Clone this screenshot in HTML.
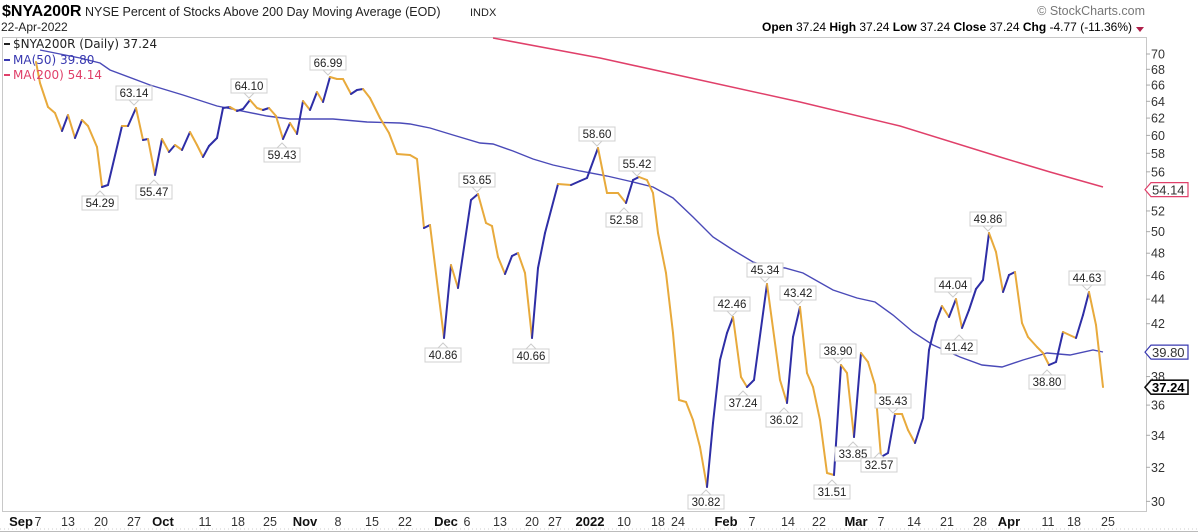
<!DOCTYPE html>
<html><head><meta charset="utf-8"><style>
html,body{margin:0;padding:0;background:#fff;}
svg{display:block;font-family:"Liberation Sans",sans-serif;}
</style></head><body>
<svg id="s" width="1198" height="532" viewBox="0 0 1198 532" xmlns="http://www.w3.org/2000/svg">
<rect width="1198" height="532" fill="#fff"/>
<text x="2" y="16" font-size="16" font-weight="bold" fill="#000">$NYA200R</text>
<text x="85" y="16" font-size="12.5" fill="#222">NYSE Percent of Stocks Above 200 Day Moving Average (EOD)</text>
<text x="470" y="16" font-size="11" fill="#222">INDX</text>
<text x="1" y="31" font-size="12" fill="#222">22-Apr-2022</text>
<text x="1145" y="15" font-size="12.5" fill="#777" text-anchor="end">© StockCharts.com</text>
<text x="1132" y="31" font-size="12" fill="#000" text-anchor="end"><tspan font-weight="bold">Open</tspan> 37.24 <tspan font-weight="bold">High</tspan> 37.24 <tspan font-weight="bold">Low</tspan> 37.24 <tspan font-weight="bold">Close</tspan> 37.24 <tspan font-weight="bold">Chg</tspan> -4.77 (-11.36%)</text>
<polygon points="1136,27 1144,27 1140,32" fill="#b0204a"/>
<rect x="2.5" y="37.5" width="1144" height="474" fill="none" stroke="#c8c8c8"/>
<line x1="0" y1="529" x2="1198" y2="529" stroke="#ccc" stroke-dasharray="1,3"/>
<line x1="0" y1="531.5" x2="1198" y2="531.5" stroke="#bbb" stroke-width="1"/>
<g id="g"></g>
</svg>
<script>
const NS="http://www.w3.org/2000/svg",g=document.getElementById('g');
function el(t,a,txt){const e=document.createElementNS(NS,t);for(const k in a)e.setAttribute(k,a[k]);if(txt!==undefined)e.textContent=txt;g.appendChild(e);return e;}
function Y(v){return 54+(Math.log(70)-Math.log(v))*528;}
[70,68,66,64,62,60,58,56,52,50,48,46,44,42,38,36,34,32,30].forEach(v=>{const y=Y(v);
el('line',{x1:1146,y1:y,x2:1150,y2:y,stroke:'#aaa'});
el('text',{x:1151,y:y+4.5,'font-size':12.5,fill:'#333'},v);});
const xl=[["Sep",21,1],["7",38],["13",68],["20",101],["27",134],["Oct",163,1],["11",205],["18",238],["25",270],["Nov",305,1],["8",338],["15",372],["22",405],["Dec",446,1],["6",467],["13",500],["20",532],["27",555],["2022",590,1],["10",624],["18",658],["24",678],["Feb",726,1],["7",752],["14",788],["22",819],["Mar",856,1],["7",881],["14",914],["21",947],["28",980],["Apr",1009,1],["11",1048],["18",1074],["25",1108]];
xl.forEach(a=>el('text',{x:a[1],y:526,'font-size':a[2]?13:12.5,'font-weight':a[2]?'bold':'normal',fill:a[2]?'#111':'#333','text-anchor':'middle'},a[0]));
el('polyline',{points:"493,38 600,58 700,80 800,102 900,126 1000,157 1050,172 1103,187",fill:'none',stroke:'#e0406a','stroke-width':1.5});
el('polyline',{points:"40,50 60,54 80,58 100,63 110,70 150,85 183,95 217,106 267,116 290,119 333,119 367,122 400,123 410,124 430,128 453,135 480,143 493,144 513,151 533,159 553,165 580,171 607,176 633,182 653,187 673,198 693,217 713,237 733,250 753,262 767,266 785,268 803,273 833,290 857,298 875,302 893,315 913,332 933,345 960,357 982,365 1002,367 1023,360 1047,353 1070,355 1093,350 1103,352",fill:'none',stroke:'#4a4ab8','stroke-width':1.4});
const P=[[36,62],[40,83],[48,107],[55,113],[62,131],[68,115],[75,138],[82,120],[88,126],[97,147],[102,187],[108,185],[122,126],[128,126],[136,108],[143,140],[148,139],[155,175],[162,139],[169,152],[175,145],[182,150],[190,132],[197,145],[203,157],[209,146],[217,138],[223,108],[230,107],[237,111],[243,109],[250,100],[257,108],[263,110],[269,108],[276,116],[283,139],[290,123],[297,134],[303,101],[310,110],[317,92],[323,102],[330,77],[337,79],[343,79],[351,94],[357,90],[363,89],[370,98],[380,118],[389,133],[397,154],[410,155],[417,159],[424,228],[430,225],[444,338],[451,265],[458,288],[471,200],[478,194],[486,223],[492,226],[498,257],[505,274],[512,256],[518,253],[525,273],[532,338],[538,268],[545,233],[558,184],[571,185],[580,181],[587,178],[598,148],[607,193],[618,193],[626,203],[633,180],[639,177],[647,180],[653,193],[658,233],[666,273],[673,333],[679,400],[686,402],[693,420],[700,447],[707,487],[713,423],[720,360],[727,333],[733,317],[741,377],[747,387],[754,380],[767,284],[780,380],[787,403],[793,337],[800,307],[807,373],[813,387],[820,420],[827,473],[834,475],[841,365],[847,373],[854,437],[861,353],[868,362],[875,385],[881,457],[888,453],[895,414],[902,414],[908,430],[915,443],[923,418],[929,350],[936,322],[942,306],[949,317],[956,299],[962,328],[969,310],[976,289],[983,280],[989,233],[996,252],[1003,292],[1009,275],[1015,272],[1022,323],[1028,337],[1037,347],[1043,353],[1049,365],[1056,362],[1063,332],[1076,338],[1083,315],[1089,292],[1096,325],[1103,387]];
for(let i=1;i<P.length;i++){const a=P[i-1],b=P[i];el('line',{x1:a[0],y1:a[1],x2:b[0],y2:b[1],stroke:b[1]<a[1]?'#2e2ea6':'#e8aa3c','stroke-width':2,'stroke-linecap':'round'});}
const L=[["63.14",134,86,1],["54.29",100,196,0],["55.47",154,185,0],["64.10",249,79,1],["59.43",282,148,0],["66.99",328,56,1],["40.86",443,348,0],["53.65",477,173,1],["40.66",531,349,0],["58.60",597,127,1],["55.42",637,157,1],["52.58",624,213,0],["42.46",732,297,1],["37.24",743,396,0],["30.82",706,495,0],["45.34",765,263,1],["43.42",798,286,1],["36.02",784,413,0],["38.90",838,344,1],["33.85",853,447,0],["31.51",832,485,0],["32.57",879,458,0],["35.43",893,394,1],["44.04",953,278,1],["41.42",959,340,0],["49.86",988,212,1],["38.80",1047,375,0],["44.63",1087,271,1]];
L.forEach(a=>{const w=36,h=14,x=a[1]-w/2,y=a[2];
if(a[3])el('polygon',{points:`${a[1]-5},${y+h} ${a[1]+5},${y+h} ${a[1]},${y+h+5}`,fill:'#fff',stroke:'#ccc'});
else el('polygon',{points:`${a[1]-5},${y} ${a[1]+5},${y} ${a[1]},${y-5}`,fill:'#fff',stroke:'#ccc'});
el('rect',{x:x,y:y,width:w,height:h,fill:'#fff',stroke:'#d0d0d0'});
el('text',{x:a[1],y:y+11,'font-size':11.5,fill:'#222','text-anchor':'middle'},a[0]);});
[["$NYA200R (Daily) 37.24","#222",48],["MA(50) 39.80","#3838b0",64],["MA(200) 54.14","#e0406a",79]].forEach(a=>{
el('rect',{x:4,y:a[2]-5,width:6,height:2,fill:a[1]});
el('text',{x:13,y:a[2],'font-size':12,fill:a[1],'font-family':'DejaVu Sans, sans-serif'},a[0]);});
[["54.14",Y(54.14),"#e0406a",0],["39.80",Y(39.8),"#3838b0",0],["37.24",Y(37.24),"#111",1]].forEach(a=>{const y=a[1];
el('polygon',{points:`1145,${y} 1151,${y-7} 1188,${y-7} 1188,${y+7} 1151,${y+7}`,fill:'#fff',stroke:a[2],'stroke-width':a[3]?1.6:1.2});
el('text',{x:1152,y:y+5,'font-size':13,'font-weight':a[3]?'bold':'normal',fill:a[3]?'#000':'#333'},a[0]);});
</script>
</body></html>
